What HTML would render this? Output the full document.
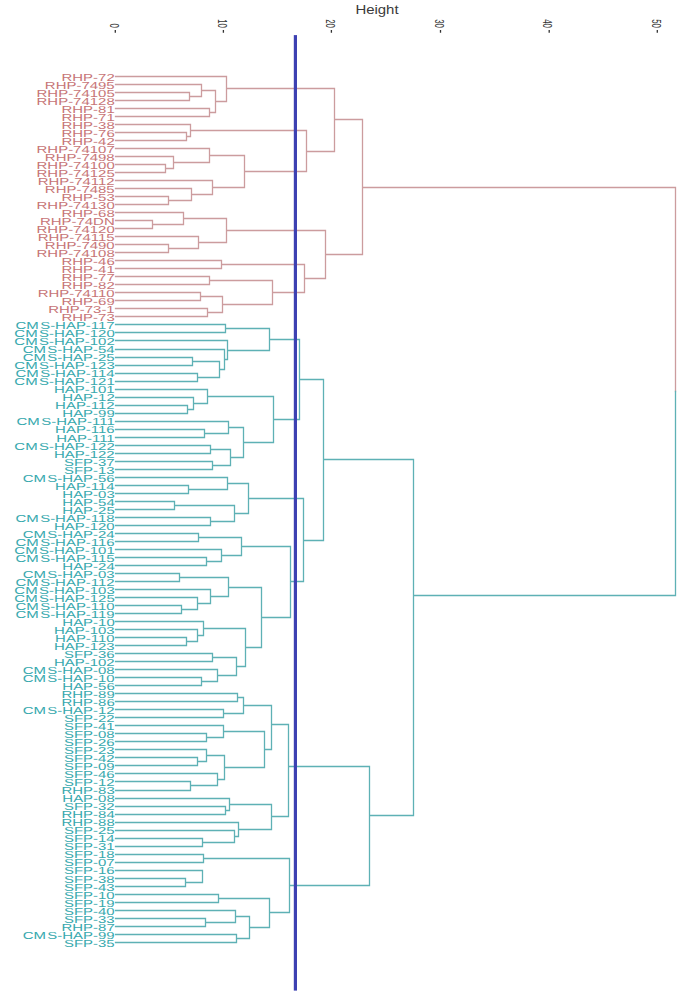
<!DOCTYPE html>
<html><head><meta charset="utf-8"><style>
html,body{margin:0;padding:0;background:#fff;}
svg{display:block;}
text{font-family:"Liberation Sans",sans-serif;}
</style></head><body>
<svg width="685" height="993" viewBox="0 0 685 993">
<rect width="685" height="993" fill="#fff"/>
<text x="355.4" y="14.5" font-size="13" fill="#3a3a3a" transform="translate(355.4,0) scale(1.15,1) translate(-355.4,0)">Height</text>
<g font-size="13.2" fill="#333">
<text transform="translate(109.50,28.0) scale(1,0.6) rotate(90)" text-anchor="end">0</text>
<text transform="translate(217.60,28.0) scale(1,0.6) rotate(90)" text-anchor="end">10</text>
<text transform="translate(325.60,28.0) scale(1,0.6) rotate(90)" text-anchor="end">20</text>
<text transform="translate(434.70,28.0) scale(1,0.6) rotate(90)" text-anchor="end">30</text>
<text transform="translate(543.40,28.0) scale(1,0.6) rotate(90)" text-anchor="end">40</text>
<text transform="translate(651.50,28.0) scale(1,0.6) rotate(90)" text-anchor="end">50</text>
</g>
<path d="M115.30 29.9V32.8 M223.40 29.9V32.8 M331.40 29.9V32.8 M440.50 29.9V32.8 M549.20 29.9V32.8 M657.30 29.9V32.8" stroke="#333" stroke-width="1.3" fill="none"/>
<path d="M115.5 92.50H189.5 M115.5 100.50H189.5 M189.5 92.50V100.50 M115.5 84.50H201.5 M189.5 96.50H201.5 M201.5 84.50V96.50 M115.5 108.50H209.5 M115.5 116.50H209.5 M209.5 108.50V116.50 M201.5 90.50H215.5 M209.5 112.50H215.5 M215.5 90.50V112.50 M115.5 76.50H226.5 M215.5 101.50H226.5 M226.5 76.50V101.50 M115.5 132.50H186.5 M115.5 140.50H186.5 M186.5 132.50V140.50 M115.5 124.50H190.5 M186.5 136.50H190.5 M190.5 124.50V136.50 M115.5 164.50H165.5 M115.5 172.50H165.5 M165.5 164.50V172.50 M115.5 156.50H173.5 M165.5 168.50H173.5 M173.5 156.50V168.50 M115.5 148.50H209.5 M173.5 162.50H209.5 M209.5 148.50V162.50 M115.5 196.50H168.5 M115.5 204.50H168.5 M168.5 196.50V204.50 M115.5 188.50H191.5 M168.5 200.50H191.5 M191.5 188.50V200.50 M115.5 180.50H212.5 M191.5 194.50H212.5 M212.5 180.50V194.50 M209.5 155.50H244.5 M212.5 187.50H244.5 M244.5 155.50V187.50 M190.5 130.50H306.5 M244.5 171.50H306.5 M306.5 130.50V171.50 M226.5 88.50H334.5 M306.5 151.50H334.5 M334.5 88.50V151.50 M115.5 220.50H152.5 M115.5 228.50H152.5 M152.5 220.50V228.50 M115.5 212.50H183.5 M152.5 224.50H183.5 M183.5 212.50V224.50 M115.5 244.50H168.5 M115.5 252.50H168.5 M168.5 244.50V252.50 M115.5 236.50H198.5 M168.5 248.50H198.5 M198.5 236.50V248.50 M183.5 218.50H226.5 M198.5 242.50H226.5 M226.5 218.50V242.50 M115.5 260.50H221.5 M115.5 268.50H221.5 M221.5 260.50V268.50 M115.5 276.50H209.5 M115.5 284.50H209.5 M209.5 276.50V284.50 M115.5 292.50H200.5 M115.5 300.50H200.5 M200.5 292.50V300.50 M115.5 308.50H207.5 M115.5 316.50H207.5 M207.5 308.50V316.50 M200.5 296.50H222.5 M207.5 312.50H222.5 M222.5 296.50V312.50 M209.5 280.50H272.5 M222.5 304.50H272.5 M272.5 280.50V304.50 M221.5 264.50H304.5 M272.5 292.50H304.5 M304.5 264.50V292.50 M226.5 230.50H325.5 M304.5 278.50H325.5 M325.5 230.50V278.50 M334.5 119.50H362.5 M325.5 254.50H362.5 M362.5 119.50V254.50 M362.5 187.50H675.5 M675.5 187.50V391.50" stroke="#cc9c9e" stroke-width="1.3" stroke-linecap="square" fill="none"/>
<path d="M115.5 324.50H225.5 M115.5 332.50H225.5 M225.5 324.50V332.50 M115.5 357.50H192.5 M115.5 365.50H192.5 M192.5 357.50V365.50 M115.5 373.50H197.5 M115.5 381.50H197.5 M197.5 373.50V381.50 M192.5 361.50H219.5 M197.5 377.50H219.5 M219.5 361.50V377.50 M115.5 349.50H224.5 M219.5 369.50H224.5 M224.5 349.50V369.50 M115.5 340.50H227.5 M224.5 359.50H227.5 M227.5 340.50V359.50 M225.5 328.50H269.5 M227.5 350.50H269.5 M269.5 328.50V350.50 M115.5 405.50H187.5 M115.5 413.50H187.5 M187.5 405.50V413.50 M115.5 397.50H193.5 M187.5 409.50H193.5 M193.5 397.50V409.50 M115.5 389.50H207.5 M193.5 403.50H207.5 M207.5 389.50V403.50 M115.5 429.50H204.5 M115.5 437.50H204.5 M204.5 429.50V437.50 M115.5 421.50H228.5 M204.5 433.50H228.5 M228.5 421.50V433.50 M115.5 445.50H210.5 M115.5 453.50H210.5 M210.5 445.50V453.50 M115.5 461.50H212.5 M115.5 469.50H212.5 M212.5 461.50V469.50 M210.5 449.50H230.5 M212.5 465.50H230.5 M230.5 449.50V465.50 M228.5 427.50H243.5 M230.5 457.50H243.5 M243.5 427.50V457.50 M207.5 396.50H273.5 M243.5 442.50H273.5 M273.5 396.50V442.50 M269.5 339.50H299.5 M273.5 419.50H299.5 M299.5 339.50V419.50 M115.5 485.50H188.5 M115.5 493.50H188.5 M188.5 485.50V493.50 M115.5 477.50H227.5 M188.5 489.50H227.5 M227.5 477.50V489.50 M115.5 501.50H174.5 M115.5 509.50H174.5 M174.5 501.50V509.50 M115.5 517.50H210.5 M115.5 525.50H210.5 M210.5 517.50V525.50 M174.5 505.50H234.5 M210.5 521.50H234.5 M234.5 505.50V521.50 M227.5 483.50H248.5 M234.5 513.50H248.5 M248.5 483.50V513.50 M115.5 533.50H198.5 M115.5 541.50H198.5 M198.5 533.50V541.50 M115.5 557.50H206.5 M115.5 565.50H206.5 M206.5 557.50V565.50 M115.5 549.50H221.5 M206.5 561.50H221.5 M221.5 549.50V561.50 M198.5 537.50H241.5 M221.5 555.50H241.5 M241.5 537.50V555.50 M115.5 573.50H179.5 M115.5 581.50H179.5 M179.5 573.50V581.50 M115.5 605.50H181.5 M115.5 613.50H181.5 M181.5 605.50V613.50 M115.5 597.50H197.5 M181.5 609.50H197.5 M197.5 597.50V609.50 M115.5 589.50H210.5 M197.5 603.50H210.5 M210.5 589.50V603.50 M179.5 577.50H228.5 M210.5 596.50H228.5 M228.5 577.50V596.50 M115.5 637.50H186.5 M115.5 645.50H186.5 M186.5 637.50V645.50 M115.5 629.50H197.5 M186.5 641.50H197.5 M197.5 629.50V641.50 M115.5 621.50H203.5 M197.5 635.50H203.5 M203.5 621.50V635.50 M115.5 653.50H212.5 M115.5 661.50H212.5 M212.5 653.50V661.50 M115.5 677.50H201.5 M115.5 685.50H201.5 M201.5 677.50V685.50 M115.5 669.50H217.5 M201.5 681.50H217.5 M217.5 669.50V681.50 M212.5 657.50H236.5 M217.5 675.50H236.5 M236.5 657.50V675.50 M203.5 628.50H245.5 M236.5 666.50H245.5 M245.5 628.50V666.50 M228.5 587.50H261.5 M245.5 647.50H261.5 M261.5 587.50V647.50 M241.5 546.50H290.5 M261.5 617.50H290.5 M290.5 546.50V617.50 M248.5 498.50H303.5 M290.5 581.50H303.5 M303.5 498.50V581.50 M299.5 379.50H323.5 M303.5 540.50H323.5 M323.5 379.50V540.50 M115.5 693.50H237.5 M115.5 701.50H237.5 M237.5 693.50V701.50 M115.5 709.50H223.5 M115.5 717.50H223.5 M223.5 709.50V717.50 M237.5 697.50H243.5 M223.5 713.50H243.5 M243.5 697.50V713.50 M115.5 733.50H206.5 M115.5 741.50H206.5 M206.5 733.50V741.50 M115.5 725.50H223.5 M206.5 737.50H223.5 M223.5 725.50V737.50 M115.5 757.50H197.5 M115.5 765.50H197.5 M197.5 757.50V765.50 M115.5 749.50H206.5 M197.5 761.50H206.5 M206.5 749.50V761.50 M115.5 781.50H190.5 M115.5 790.50H190.5 M190.5 781.50V790.50 M115.5 773.50H217.5 M190.5 785.50H217.5 M217.5 773.50V785.50 M206.5 755.50H224.5 M217.5 779.50H224.5 M224.5 755.50V779.50 M223.5 731.50H264.5 M224.5 767.50H264.5 M264.5 731.50V767.50 M243.5 705.50H271.5 M264.5 749.50H271.5 M271.5 705.50V749.50 M115.5 806.50H225.5 M115.5 814.50H225.5 M225.5 806.50V814.50 M115.5 798.50H229.5 M225.5 810.50H229.5 M229.5 798.50V810.50 M115.5 838.50H202.5 M115.5 846.50H202.5 M202.5 838.50V846.50 M115.5 830.50H234.5 M202.5 842.50H234.5 M234.5 830.50V842.50 M115.5 822.50H238.5 M234.5 836.50H238.5 M238.5 822.50V836.50 M229.5 804.50H271.5 M238.5 829.50H271.5 M271.5 804.50V829.50 M271.5 724.50H288.5 M271.5 816.50H288.5 M288.5 724.50V816.50 M115.5 854.50H203.5 M115.5 862.50H203.5 M203.5 854.50V862.50 M115.5 878.50H185.5 M115.5 886.50H185.5 M185.5 878.50V886.50 M115.5 870.50H202.5 M185.5 882.50H202.5 M202.5 870.50V882.50 M115.5 894.50H218.5 M115.5 902.50H218.5 M218.5 894.50V902.50 M115.5 918.50H205.5 M115.5 926.50H205.5 M205.5 918.50V926.50 M115.5 910.50H235.5 M205.5 922.50H235.5 M235.5 910.50V922.50 M115.5 934.50H236.5 M115.5 942.50H236.5 M236.5 934.50V942.50 M235.5 916.50H249.5 M236.5 938.50H249.5 M249.5 916.50V938.50 M218.5 898.50H269.5 M249.5 927.50H269.5 M269.5 898.50V927.50 M203.5 858.50H289.5 M269.5 912.50H289.5 M289.5 858.50V912.50 M288.5 766.50H369.5 M289.5 885.50H369.5 M369.5 766.50V885.50 M323.5 459.50H413.5 M369.5 815.50H413.5 M413.5 459.50V815.50 M413.5 595.50H675.5 M675.5 391.50V595.50" stroke="#5eb1b5" stroke-width="1.3" stroke-linecap="square" fill="none"/>
<g transform="translate(114.7,0) scale(1.468,1)" font-size="10.2" style="text-rendering:geometricPrecision" text-anchor="end">
<g fill="#c77577">
<text y="80.70">RHP-72</text>
<text y="88.72">RHP-7495</text>
<text y="96.74">RHP-74105</text>
<text y="104.75">RHP-74128</text>
<text y="112.77">RHP-81</text>
<text y="120.79">RHP-71</text>
<text y="128.81">RHP-38</text>
<text y="136.83">RHP-76</text>
<text y="144.84">RHP-42</text>
<text y="152.86">RHP-74107</text>
<text y="160.88">RHP-7498</text>
<text y="168.90">RHP-74100</text>
<text y="176.92">RHP-74125</text>
<text y="184.93">RHP-74112</text>
<text y="192.95">RHP-7485</text>
<text y="200.97">RHP-53</text>
<text y="208.99">RHP-74130</text>
<text y="217.01">RHP-68</text>
<text y="225.02">RHP-74DN</text>
<text y="233.04">RHP-74120</text>
<text y="241.06">RHP-74115</text>
<text y="249.08">RHP-7490</text>
<text y="257.10">RHP-74108</text>
<text y="265.11">RHP-46</text>
<text y="273.13">RHP-41</text>
<text y="281.15">RHP-77</text>
<text y="289.17">RHP-82</text>
<text y="297.19">RHP-74110</text>
<text y="305.20">RHP-69</text>
<text y="313.22">RHP-73-1</text>
<text y="321.24">RHP-73</text>
</g>
<g fill="#38a9ae">
<text y="329.26">CM<tspan dx="1.0">S</tspan>-HAP-117</text>
<text y="337.28">CM<tspan dx="1.0">S</tspan>-HAP-120</text>
<text y="345.29">CM<tspan dx="1.0">S</tspan>-HAP-102</text>
<text y="353.31">CM<tspan dx="1.0">S</tspan>-HAP-54</text>
<text y="361.33">CM<tspan dx="1.0">S</tspan>-HAP-25</text>
<text y="369.35">CM<tspan dx="1.0">S</tspan>-HAP-123</text>
<text y="377.37">CM<tspan dx="1.0">S</tspan>-HAP-114</text>
<text y="385.38">CM<tspan dx="1.0">S</tspan>-HAP-121</text>
<text y="393.40">HAP-101</text>
<text y="401.42">HAP-12</text>
<text y="409.44">HAP-112</text>
<text y="417.46">HAP-99</text>
<text y="425.47">CM<tspan dx="1.0">S</tspan>-HAP-111</text>
<text y="433.49">HAP-116</text>
<text y="441.51">HAP-111</text>
<text y="449.53">CM<tspan dx="1.0">S</tspan>-HAP-122</text>
<text y="457.55">HAP-122</text>
<text y="465.56">SFP-37</text>
<text y="473.58">SFP-13</text>
<text y="481.60">CM<tspan dx="1.0">S</tspan>-HAP-56</text>
<text y="489.62">HAP-114</text>
<text y="497.64">HAP-03</text>
<text y="505.65">HAP-54</text>
<text y="513.67">HAP-25</text>
<text y="521.69">CM<tspan dx="1.0">S</tspan>-HAP-118</text>
<text y="529.71">HAP-120</text>
<text y="537.73">CM<tspan dx="1.0">S</tspan>-HAP-24</text>
<text y="545.74">CM<tspan dx="1.0">S</tspan>-HAP-116</text>
<text y="553.76">CM<tspan dx="1.0">S</tspan>-HAP-101</text>
<text y="561.78">CM<tspan dx="1.0">S</tspan>-HAP-115</text>
<text y="569.80">HAP-24</text>
<text y="577.82">CM<tspan dx="1.0">S</tspan>-HAP-03</text>
<text y="585.83">CM<tspan dx="1.0">S</tspan>-HAP-112</text>
<text y="593.85">CM<tspan dx="1.0">S</tspan>-HAP-103</text>
<text y="601.87">CM<tspan dx="1.0">S</tspan>-HAP-125</text>
<text y="609.89">CM<tspan dx="1.0">S</tspan>-HAP-110</text>
<text y="617.91">CM<tspan dx="1.0">S</tspan>-HAP-119</text>
<text y="625.92">HAP-10</text>
<text y="633.94">HAP-103</text>
<text y="641.96">HAP-110</text>
<text y="649.98">HAP-123</text>
<text y="658.00">SFP-36</text>
<text y="666.01">HAP-102</text>
<text y="674.03">CM<tspan dx="1.0">S</tspan>-HAP-08</text>
<text y="682.05">CM<tspan dx="1.0">S</tspan>-HAP-10</text>
<text y="690.07">HAP-56</text>
<text y="698.09">RHP-89</text>
<text y="706.10">RHP-86</text>
<text y="714.12">CM<tspan dx="1.0">S</tspan>-HAP-12</text>
<text y="722.14">SFP-22</text>
<text y="730.16">SFP-41</text>
<text y="738.18">SFP-08</text>
<text y="746.19">SFP-26</text>
<text y="754.21">SFP-23</text>
<text y="762.23">SFP-42</text>
<text y="770.25">SFP-09</text>
<text y="778.27">SFP-46</text>
<text y="786.28">SFP-12</text>
<text y="794.30">RHP-83</text>
<text y="802.32">HAP-08</text>
<text y="810.34">SFP-32</text>
<text y="818.36">RHP-84</text>
<text y="826.37">RHP-88</text>
<text y="834.39">SFP-25</text>
<text y="842.41">SFP-14</text>
<text y="850.43">SFP-31</text>
<text y="858.45">SFP-18</text>
<text y="866.46">SFP-07</text>
<text y="874.48">SFP-16</text>
<text y="882.50">SFP-38</text>
<text y="890.52">SFP-43</text>
<text y="898.54">SFP-10</text>
<text y="906.55">SFP-19</text>
<text y="914.57">SFP-40</text>
<text y="922.59">SFP-33</text>
<text y="930.61">RHP-87</text>
<text y="938.63">CM<tspan dx="1.0">S</tspan>-HAP-99</text>
<text y="946.64">SFP-35</text>
</g>
</g>
<rect x="293.8" y="35.1" width="3.2" height="955.5" fill="#3d41b2"/>
</svg>
</body></html>
